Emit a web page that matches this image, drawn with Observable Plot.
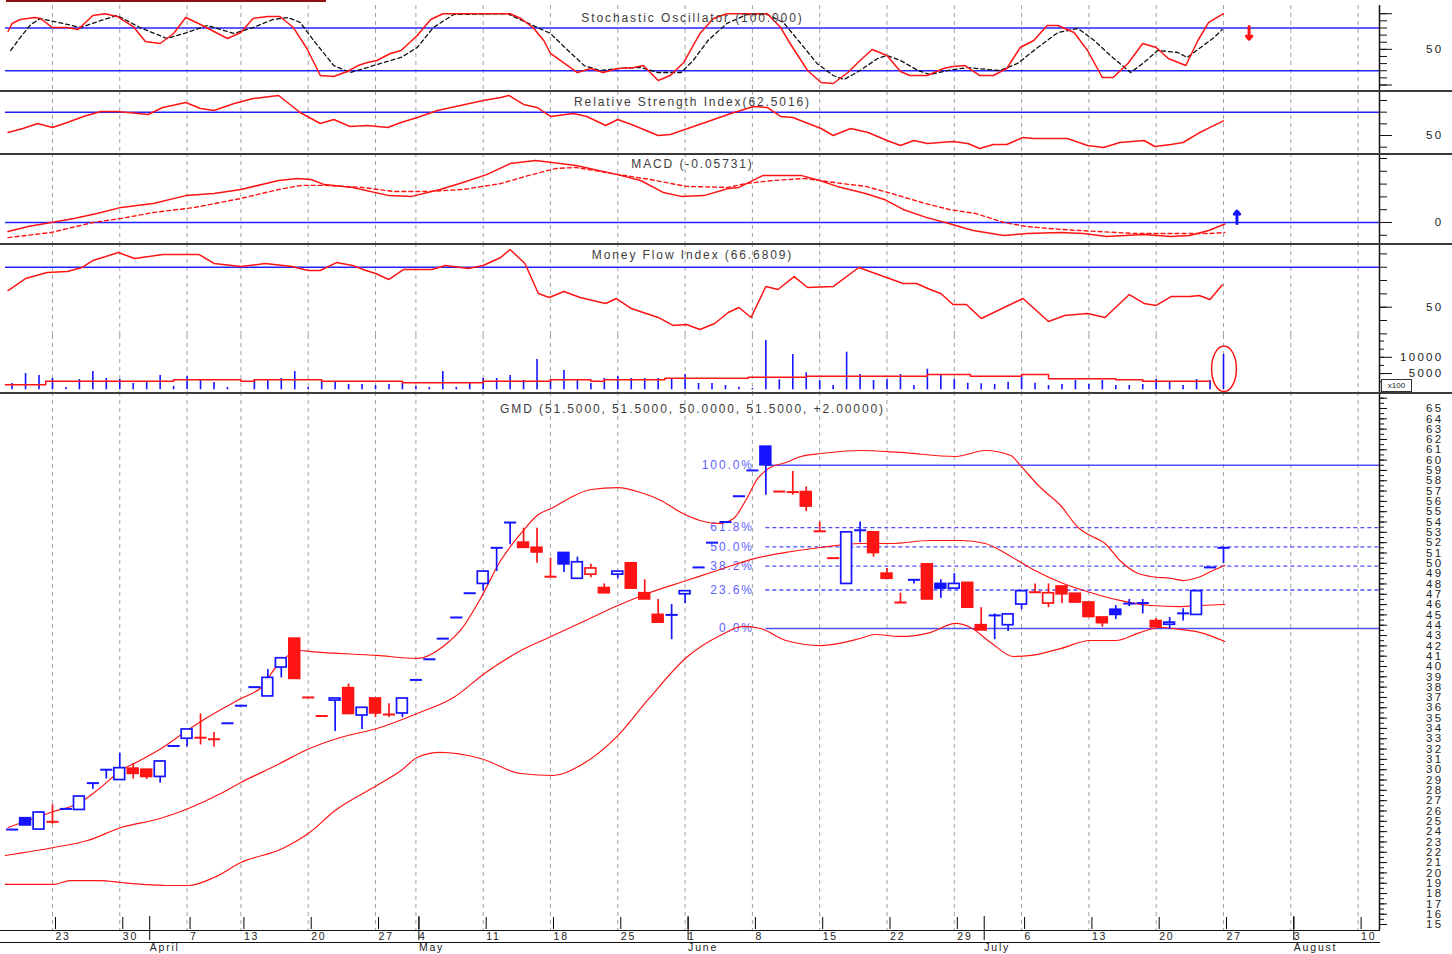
<!DOCTYPE html>
<html><head><meta charset="utf-8">
<script src="https://cdn.jsdelivr.net/npm/d3@7"></script>
<script src="https://cdn.jsdelivr.net/npm/@observablehq/plot@0.6"></script>
<style>
body{margin:0;background:#fff;}
#chart{position:relative;width:1452px;height:954px;overflow:hidden;background:#fff;font-family:"Liberation Sans",Arial,sans-serif;}
#chart svg{position:absolute;left:0;}
#chart svg text{letter-spacing:1.9px;}
#chart g[aria-label="y-axis tick label"] text{letter-spacing:2.3px;}
#chart g[aria-label="x-axis tick label"] text{letter-spacing:1.8px;}
.hline{position:absolute;left:0;background:#333;}
</style></head><body><div id="chart"></div>
<script>
// ---------- x axis (trading-day index) ----------
const weekIdx = [3,8,13,17,22,27,30,35,40,45,50,55,60,65,70,75,80,85,90,95,100];
const weekLabels = ["23","30","7","13","20","27","4","11","18","25","1","8","15","22","29","6","13","20","27","3","10"];
const monthIdx = [10,30,50,72,95];
const monthLabels = ["April","May","June","July","August"];

// ---------- price candles (index 0..90) ----------
const open = [24.2,25.3,24.2,25.0,26.2,26.1,28.7,30.0,29.0,30.1, 30.0,29.3,32.3,33.0,33.1,33.1,34.5,36.2,38.0,37.1, 39.9,42.7,37.0,35.2,36.7,37.9,35.25,36.9,35.4,35.45, 38.7,40.7,42.7,44.75,47.1,48.0,51.5,53.95,52.0,51.5, 48.7,51.0,48.5,48.9,47.6,48.9,50.0,47.1,45.0,45.0, 47.0,49.6,52.0,54.0,56.5,59.0,61.3,56.95,56.95,56.9, 53.1,50.5,48.0,53.2,53.0,49.0,46.2,48.4,49.9,48.0, 47.55,48.1,44.0,44.95,44.0,46.0,47.2,46.1,47.75,47.05, 46.2,44.75,45.5,46.1,46.15,44.4,44.05,45.15,45.0,49.6, 51.5];
const high = [24.2,25.3,25.85,26.6,26.2,27.4,28.7,30.0,31.6,30.6, 30.0,30.8,32.3,33.9,35.4,33.6,34.5,36.2,38.0,39.7, 40.8,42.7,37.0,35.2,36.9,38.3,36.0,36.9,36.4,36.9, 38.7,40.7,42.7,44.75,47.1,49.2,51.5,53.95,53.4,53.4, 50.5,51.0,50.6,49.9,48.0,49.2,50.0,48.4,46.5,46.0, 47.3,49.6,52.0,54.0,56.5,59.0,61.3,56.95,58.9,57.4, 54.0,50.5,53.0,54.0,53.0,49.5,47.1,48.4,49.9,48.4, 49.0,48.1,45.7,45.1,45.05,47.3,48.0,48.0,47.75,47.05, 46.2,44.75,45.9,46.5,46.5,44.65,44.75,45.6,47.3,49.6, 51.5];
const low = [24.2,24.6,24.2,24.7,26.2,26.1,28.1,29.1,29.0,29.1, 29.05,28.7,32.3,32.2,32.4,32.2,34.5,36.2,38.0,37.1, 38.9,38.8,37.0,35.2,33.7,35.4,33.9,35.05,35.05,35.05, 38.7,40.7,42.7,44.75,47.1,47.3,49.2,51.8,51.5,50.0, 48.7,49.1,48.5,48.6,47.1,48.5,47.55,46.5,44.25,42.6, 46.1,49.6,52.0,54.0,56.5,59.0,56.6,56.95,56.6,55.0, 53.1,50.5,48.0,52.0,50.6,48.5,46.2,48.0,46.5,46.6, 47.55,45.7,43.5,42.6,43.4,45.5,47.2,45.7,46.1,46.2, 44.8,43.8,44.55,45.8,45.1,43.8,43.6,44.4,45.0,49.6, 50.0];
const close = [24.2,24.6,25.85,24.95,26.2,27.4,28.7,30.0,30.15,29.6, 29.3,30.8,32.3,33.9,33.1,32.95,34.5,36.2,38.0,38.9, 40.8,38.8,37.0,35.2,36.9,35.4,36.0,35.45,35.35,36.9, 38.7,40.7,42.7,44.75,47.1,49.2,51.5,53.95,51.5,51.05, 48.7,49.9,50.1,49.5,47.1,49.2,47.55,46.5,44.25,45.0, 47.3,49.6,52.0,54.0,56.5,59.0,59.5,56.95,56.9,55.5, 53.1,50.5,53.0,53.2,51.0,48.5,46.2,48.4,46.5,47.55, 48.0,45.7,43.5,44.95,45.05,47.3,47.2,47.1,47.0,46.2, 44.8,44.2,45.0,46.1,46.15,43.8,44.25,45.15,47.3,49.6, 51.5];

// ---------- Bollinger bands ----------
const bbUpperIdx = [-0.3,3.1,4.9,6.3,8.1,9.5,11.2,13.0,14.5,17.0,18.5,19.7,21.4,22.2,27.1,30.1,32.3,33.3,34.8,36.3,37.2,38.1,39.0,40.2,41.5,43.0,45.0,46.7,48.2,49.7,51.1,52.5,53.6,54.5,55.4,56.2,57.5,58.6,60.1,63.0,66.0,70.1,72.3,74.2,74.9,76.4,77.9,79.2,80.1,81.2,82.3,83.5,84.6,86.1,87.0,88.1,89.2,90.1];
const bbUpper = [24.40,25.95,26.72,27.98,29.92,30.89,32.15,33.80,35.06,36.90,37.97,40.10,41.55,41.45,41.07,40.78,42.23,43.49,46.59,50.27,51.92,53.37,54.63,55.41,56.38,57.15,57.34,56.86,56.09,54.92,54.15,53.86,54.34,56.09,58.22,59.19,59.77,60.35,60.64,60.93,60.74,60.35,60.93,60.45,59.48,57.34,55.60,53.47,52.69,51.92,50.27,49.11,48.72,48.53,48.33,48.62,49.30,49.79];
const bbMidIdx = [-0.5,3.1,5.6,8.1,11.0,13.1,15.5,17.0,19.6,22.1,24.4,27.1,30.1,32.8,35.2,37.8,40.2,42.6,45.0,47.4,50.1,52.6,55.2,57.5,60.1,63.0,65.3,68.2,70.5,72.3,74.2,76.0,77.9,80.1,82.3,84.6,86.8,88.3,90.1];
const bbMid = [21.69,22.46,23.14,24.40,25.27,26.24,27.69,28.76,30.41,32.05,33.12,33.99,35.45,37.00,39.42,41.55,43.00,44.46,45.91,47.17,48.33,49.40,50.47,51.05,51.53,51.92,51.92,52.21,52.21,51.92,50.66,49.30,48.14,47.17,46.40,45.91,45.81,45.91,46.01];
const bbLowerIdx = [-0.5,3.1,4.3,6.6,8.1,11.8,13.1,15.0,17.0,20.1,22.1,24.0,27.1,28.9,30.1,31.8,34.8,37.8,40.2,42.2,45.0,47.2,50.1,52.6,54.3,55.6,57.5,60.1,63.0,64.1,66.0,68.2,70.1,71.2,72.7,74.4,75.7,77.9,80.1,82.0,83.8,85.3,86.8,88.3,90.1];
const bbLower = [18.88,18.88,19.26,19.26,19.07,18.78,18.78,19.55,21.01,22.36,23.91,26.05,28.47,29.92,31.18,31.67,31.09,29.63,29.44,30.41,33.31,36.71,40.87,43.00,43.88,43.68,42.52,42.03,42.71,43.10,42.91,43.29,44.17,43.78,42.33,40.97,41.07,41.74,42.52,42.52,43.29,43.78,43.59,43.29,42.42];

// ---------- Fibonacci retracement ----------
const fibLabels = ["100.0%","61.8%","50.0%","38.2%","23.6%","0.0%"];
const fibRatios = [1,0.618,0.5,0.382,0.236,0];
const fibHigh = 59.5, fibLow = 43.68, fibStartIdx = 56;

// ---------- Stochastic ----------
const stochKIdx = [-0.3,0.0,0.6,1.7,2.1,3.0,4.1,4.9,6.0,6.9,7.8,9.0,9.9,11.0,12.0,12.9,14.0,16.0,17.0,17.9,19.0,19.9,20.9,21.9,22.9,23.9,24.9,25.7,26.4,27.1,28.1,28.9,30.1,31.1,32.0,36.3,37.0,37.8,38.7,39.5,40.0,42.0,43.0,43.9,45.0,46.2,46.9,48.0,48.9,49.9,51.1,52.1,53.1,56.1,57.1,57.8,59.1,60.1,61.0,62.1,63.0,63.9,65.0,66.0,66.7,68.0,69.2,69.9,70.8,71.9,72.9,73.9,74.9,75.9,76.9,77.7,78.9,79.9,81.0,81.8,82.9,84.0,85.0,85.9,87.2,88.1,88.9,90.0];
const stochK = [75.0,86.3,91.9,94.7,93.3,80.6,80.6,77.8,97.5,100,96.1,82.0,61.0,58.2,72.2,94.7,84.9,65.2,73.6,93.3,96.1,96.1,80.6,51.2,13.3,11.9,18.9,27.3,31.6,34.4,44.2,48.4,69.4,91.9,100,100,100,93.3,80.6,62.4,44.2,17.5,23.1,17.5,23.1,24.5,27.3,6.3,13.3,31.6,72.2,93.3,100,100,80.6,58.2,20.3,3.5,2.1,17.5,34.4,49.8,41.4,18.9,13.3,13.3,23.1,25.9,27.3,13.3,13.3,23.1,52.6,62.4,83.5,83.5,73.6,48.4,10.5,10.5,30.2,58.2,52.6,37.2,27.3,62.4,87.7,100];
const stochDIdx = [-0.1,0.6,1.4,2.1,4.1,5.1,6.6,7.8,9.5,11.5,13.0,14.5,16.5,17.9,19.4,20.5,21.4,22.4,23.9,25.1,26.4,27.6,28.9,30.1,31.3,32.8,36.8,40.0,41.3,42.5,43.7,45.0,46.7,48.0,49.7,50.6,51.7,53.1,54.6,56.1,57.3,58.6,59.8,61.0,61.8,63.0,64.3,65.0,66.0,67.3,68.2,69.5,71.0,72.5,73.4,74.7,76.2,77.7,79.2,80.4,81.6,83.1,84.1,85.1,86.6,87.3,88.3,89.3,89.9];
const stochD = [48.4,66.6,84.9,93.3,84.9,80.6,90.5,97.5,80.6,65.2,73.6,83.5,72.2,80.6,91.9,94.7,87.7,62.4,27.3,17.5,24.5,31.6,38.6,52.6,80.6,98.9,100,72.2,48.4,27.3,20.3,23.1,24.5,17.5,17.5,34.4,62.4,86.3,98.9,98.9,87.7,58.2,30.2,13.3,7.7,20.3,37.2,41.4,34.4,20.3,14.7,20.3,24.5,21.7,20.3,30.2,52.6,73.6,79.2,62.4,41.4,17.5,31.6,48.4,45.6,38.6,52.6,66.6,77.8];
const stochLevels = [80,20];

// ---------- RSI ----------
const rsiIdx = [-0.3,0.8,1.9,3.0,4.1,5.3,6.6,7.8,8.6,10.1,11.2,12.9,14.0,15.0,16.5,17.9,19.8,21.4,22.9,23.9,25.1,26.4,27.9,28.9,30.1,31.6,33.3,35.0,36.3,36.9,38.0,39.0,40.0,41.7,42.7,44.1,45.0,46.2,48.0,48.9,50.2,51.7,53.4,55.1,56.1,57.1,58.0,60.1,61.0,62.3,63.6,65.0,66.0,67.0,68.0,69.9,71.0,71.9,72.9,73.9,75.1,75.9,78.4,79.9,81.1,82.3,84.1,84.9,86.1,87.0,88.1,89.0,90.0];
const rsiVal = [52.6,56.0,60.3,56.9,61.1,66.3,70.6,70.6,69.7,68.0,74.0,78.3,73.1,71.4,77.4,81.7,84.3,69.7,60.3,63.7,57.7,58.6,56.9,61.1,65.4,71.4,75.7,80.0,82.6,84.3,76.6,74.0,66.3,68.9,66.3,58.6,63.7,58.6,50.0,50.9,56.0,62.0,68.9,74.8,74.0,66.3,65.4,56.0,50.0,56.0,52.6,45.7,41.4,45.7,43.1,44.9,43.1,38.9,42.3,42.3,48.3,47.4,47.4,41.4,39.7,44.0,45.7,40.6,42.3,44.0,51.7,56.9,62.5];
const rsiLevels = [70];

// ---------- MACD ----------
const macdIdx = [-0.3,1.2,2.9,4.6,6.3,8.1,10.5,12.9,15.0,17.0,19.8,21.2,22.2,23.2,25.3,28.0,29.7,31.8,33.5,35.3,37.0,38.9,41.9,44.9,46.7,48.4,49.7,51.4,53.2,54.0,55.8,58.6,60.0,61.3,63.4,64.8,66.2,67.9,69.6,71.4,73.7,75.4,77.9,79.6,81.3,84.1,86.1,87.5,88.9,90.1];
const macdVal = [-0.35,-0.16,0,0.16,0.35,0.59,0.74,1.05,1.13,1.29,1.64,1.72,1.68,1.48,1.37,1.05,1.02,1.29,1.56,1.88,2.30,2.42,2.23,1.88,1.64,1.17,1.02,1.05,1.33,1.37,1.84,1.84,1.64,1.41,1.13,0.90,0.51,0.20,-0.04,-0.31,-0.51,-0.43,-0.39,-0.43,-0.55,-0.47,-0.55,-0.51,-0.31,-0.06];
const signalIdx = [-0.3,2.9,6.0,8.1,10.5,13.6,17.0,19.8,21.5,23.2,26.0,28.4,30.8,33.5,36.3,38.4,40.4,41.9,44.6,47.4,50.1,53.2,54.5,56.5,58.9,61.7,63.4,65.1,67.6,69.6,71.6,73.7,75.4,77.9,80.6,83.4,86.1,88.9,90.1];
const signalVal = [-0.59,-0.39,0,0.16,0.39,0.59,0.94,1.29,1.45,1.45,1.37,1.21,1.21,1.29,1.52,1.84,2.11,2.15,1.91,1.68,1.41,1.37,1.52,1.64,1.72,1.52,1.41,1.17,0.78,0.51,0.35,0,-0.16,-0.27,-0.35,-0.43,-0.43,-0.43,-0.39];
const macdLevels = [0];

// ---------- Money Flow Index ----------
const mfiIdx = [-0.3,1.0,2.6,4.1,5.2,6.0,7.9,9.1,11.2,13.9,15.0,17.0,18.8,20.8,22.0,22.9,24.1,25.3,26.3,27.0,28.0,29.1,31.2,32.2,33.9,35.0,36.3,37.0,38.1,39.1,39.9,41.0,42.2,44.1,44.9,46.0,48.0,49.1,50.1,51.1,52.2,53.2,54.0,54.9,56.0,56.9,58.1,59.1,61.0,62.9,66.2,67.2,68.2,69.0,69.9,70.9,72.0,75.1,77.0,78.2,79.9,81.2,83.0,84.1,85.0,86.1,87.5,88.2,89.0,89.9];
const mfiVal = [62.5,71.5,76.0,76.8,79.8,85.0,91.0,86.5,89.5,89.5,82.8,80.5,82.8,80.5,77.5,77.5,83.5,81.3,77.5,75.3,70.8,78.3,78.3,81.3,79.0,81.3,87.3,93.3,82.8,60.3,57.3,61.8,57.3,52.8,56.5,49.0,42.3,36.3,37.0,33.3,37.8,46.0,49.8,42.3,65.5,63.3,73.0,64.8,65.5,79.8,67.8,67.8,63.3,60.3,52.0,52.0,41.5,56.5,39.3,43.8,45.3,42.3,59.5,52.8,51.3,58.0,58.0,58.8,55.8,66.7];
const mfiLevels = [80];

// ---------- Volume (x100) ----------
const volume = [1940,5015,4400,3477,708,3169,5631,3477,3169,1938, 2554,4400,1015,4092,3169,2246,708,100,3169,3169, 3477,5631,708,2554,2554,1631,1631,1323,1631,1938, 1015,708,5631,708,1938,3477,3477,4400,2862,9323, 3169,5939,2862,1938,3477,4092,3477,3477,3477,3477, 4708,1938,1938,1323,800,400,15170,3077,10862,5231, 2862,1323,11570,4708,2862,3169,4708,1323,6339,4400, 3169,2031,1846,1631,2339,4400,2031,1323,1631,2862, 1631,2862,1323,1323,1631,3169,2554,1323,3169,2862, 10862];
const volMaIdx = [-0.5,2.5,12,17,18,23,29,35,40,43,44,48.5,54.7,59,68,71.2,75,77,82,84,89];
const volMaVal = [1540,2646,3077,2646,3077,2646,2154,2646,3077,2646,3077,3569,3877,4185,4708,4185,4708,3385,3077,2646,2646];

// ---------- annotations ----------
const stochSignal = [{i: 91.9, from: 82, to: 64}];
const macdSignal = [{i: 91.0, from: -0.04, to: 0.45}];
const volHighlight = [{i1: 89.15, i2: 91.0, v1: -700, v2: 13300}];

const titles = {
  stoch: "Stochastic Oscillator (100.000)",
  rsi: "Relative Strength Index(62.5016)",
  macd: "MACD (-0.05731)",
  mfi: "Money Flow Index (66.6809)",
  price: "GMD (51.5000, 51.5000, 50.0000, 51.5000, +2.00000)"
};

// ================= rendering =================
const BLUE = "#1414ff", RED = "#ff1414", LEVEL = "#2222ff", FIB = "#4f4fff";
const FONT = "'Liberation Sans', Arial, sans-serif";
const W = 1452;
const X_DOMAIN = [-0.49, 101.59];
const chart = document.getElementById("chart");
const zip = (idx, val) => idx.map((i, k) => ({i, v: val[k]}));
const range = (a, b, s) => d3.range(a, b + s / 2, s).map(v => +v.toFixed(4));

function addPlot(top, height, yDomain, marks, extra = {}) {
  const svg = Plot.plot({
    width: W, height,
    marginLeft: 5, marginRight: 73,
    marginTop: extra.marginTop ?? 0, marginBottom: extra.marginBottom ?? 0,
    x: {domain: X_DOMAIN, axis: null},
    y: {domain: yDomain, axis: null},
    color: {type: "identity"},
    style: {background: "transparent", fontFamily: FONT, fontSize: "10px", overflow: "visible", color: "#222"},
    marks
  });
  svg.style.position = "absolute";
  svg.style.top = top + "px";
  svg.style.left = "0px";
  chart.appendChild(svg);
}
const grid = () => Plot.ruleX(weekIdx, {stroke: "#a2a2a2", strokeDasharray: "4,4", strokeWidth: 1});
function rightAxis({minor, major, long, labeled, fmt = d => String(d)}) {
  const m = [Plot.ruleX([X_DOMAIN[1]], {stroke: "#111", strokeWidth: 1.5})];
  if (minor && minor.length) m.push(Plot.axisY({ticks: minor, anchor: "right", tickSize: 4, tickFormat: () => "", label: null, stroke: "#111"}));
  if (major && major.length) m.push(Plot.axisY({ticks: major, anchor: "right", tickSize: 7, tickFormat: () => "", label: null, stroke: "#111"}));
  if (long && long.length) m.push(Plot.axisY({ticks: long, anchor: "right", tickSize: 12, tickFormat: () => "", label: null, stroke: "#111"}));
  if (labeled && labeled.length) m.push(Plot.axisY({ticks: labeled, anchor: "right", tickSize: 0, tickPadding: 0, tickFormat: fmt, textAnchor: "end", dx: 64, label: null, fill: "#222", fontSize: 11.5}));
  return m;
}
const title = (t, dy) => Plot.text([t], {frameAnchor: "top", dy, fontSize: 12, fill: "#3c3c3c"});

// Panel 1: Stochastic
addPlot(0, 91, [-9.12, 111.5], [
  grid(),
  Plot.ruleY(stochLevels, {stroke: LEVEL, strokeWidth: 1.5}),
  Plot.line(zip(stochDIdx, stochD), {x: "i", y: "v", stroke: "#111", strokeWidth: 1.3, strokeDasharray: "4,3"}),
  Plot.line(zip(stochKIdx, stochK), {x: "i", y: "v", stroke: RED, strokeWidth: 1.5}),
  Plot.arrow(stochSignal, {x1: "i", x2: "i", y1: "from", y2: "to", stroke: RED, strokeWidth: 3, headLength: 7, headAngle: 80}),
  title(titles.stoch, 8),
  ...rightAxis({major: range(0, 100, 10), long: [0, 50, 100], labeled: [50]})
], {marginTop: 5});

// Panel 2: RSI
addPlot(91, 62, [34.58, 87.7], [
  grid(),
  Plot.ruleY(rsiLevels, {stroke: LEVEL, strokeWidth: 1.5}),
  Plot.line(zip(rsiIdx, rsiVal), {x: "i", y: "v", stroke: RED, strokeWidth: 1.5}),
  title(titles.rsi, 6),
  ...rightAxis({major: range(40, 80, 10), long: [50], labeled: [50]})
]);

// Panel 3: MACD
addPlot(153, 90, [-0.82, 2.695], [
  grid(),
  Plot.ruleY(macdLevels, {stroke: LEVEL, strokeWidth: 1.5}),
  Plot.line(zip(signalIdx, signalVal), {x: "i", y: "v", stroke: RED, strokeWidth: 1.4, strokeDasharray: "4,3"}),
  Plot.line(zip(macdIdx, macdVal), {x: "i", y: "v", stroke: RED, strokeWidth: 1.5}),
  Plot.arrow(macdSignal, {x1: "i", x2: "i", y1: "from", y2: "to", stroke: BLUE, strokeWidth: 3, headLength: 7, headAngle: 80}),
  title(titles.macd, 6),
  ...rightAxis({major: range(-0.5, 2.5, 0.5), long: [0], labeled: [0]})
]);

// Panel 4a: MFI
addPlot(243, 92, [28.77, 97.79], [
  grid(),
  Plot.ruleY(mfiLevels, {stroke: LEVEL, strokeWidth: 1.5}),
  Plot.line(zip(mfiIdx, mfiVal), {x: "i", y: "v", stroke: RED, strokeWidth: 1.5}),
  title(titles.mfi, 7),
  ...rightAxis({major: range(30, 90, 10), long: [50], labeled: [50]})
]);

// Panel 4b: Volume
addPlot(335, 57, [-831, 16708], [
  grid(),
  Plot.ruleX(volume.map((v, i) => ({i, v})), {x: "i", y1: 0, y2: "v", stroke: BLUE, strokeWidth: 1.6}),
  Plot.line(zip(volMaIdx, volMaVal), {x: "i", y: "v", stroke: RED, strokeWidth: 1.5, curve: "step-after"}),
  Plot.rect(volHighlight, {x1: "i1", x2: "i2", y1: "v1", y2: "v2", rx: 13, ry: 23, fill: "none", stroke: RED, strokeWidth: 1.5}),
  ...rightAxis({minor: range(2500, 15000, 2500), long: [5000, 10000], labeled: [5000, 10000]})
]);

// Panel 5: Price
const candles = open.map((o, i) => ({
  i, o, h: high[i], l: low[i], c: close[i],
  col: (i === 0 || close[i] > close[i - 1]) ? BLUE : RED,
  filled: close[i] < o
}));
const bodies = candles.filter(d => Math.abs(d.c - d.o) >= 0.15);
const dojis = candles.filter(d => Math.abs(d.c - d.o) < 0.15);
const fib = fibLabels.map((label, k) => ({label, ratio: fibRatios[k], p: fibLow + fibRatios[k] * (fibHigh - fibLow)}));
const weekMap = new Map(weekIdx.map((d, k) => [d, weekLabels[k]]));
const monthMap = new Map(monthIdx.map((d, k) => [d, monthLabels[k]]));

addPlot(392, 562, [14.42, 66.55], [
  grid(),
  Plot.ruleY(fib.filter(d => d.ratio === 1 || d.ratio === 0), {y: "p", x1: fibStartIdx, x2: X_DOMAIN[1], stroke: FIB, strokeWidth: 1.5}),
  Plot.ruleY(fib.filter(d => d.ratio !== 1 && d.ratio !== 0), {y: "p", x1: fibStartIdx, x2: X_DOMAIN[1], stroke: FIB, strokeWidth: 1.4, strokeDasharray: "4,3"}),
  Plot.text(fib, {x: fibStartIdx, y: "p", text: "label", textAnchor: "end", dx: -12, fill: "#5e5eff", fontSize: 12}),
  Plot.line(zip(bbUpperIdx, bbUpper), {x: "i", y: "v", stroke: RED, strokeWidth: 1.2, curve: "monotone-x"}),
  Plot.line(zip(bbMidIdx, bbMid), {x: "i", y: "v", stroke: RED, strokeWidth: 1.2, curve: "monotone-x"}),
  Plot.line(zip(bbLowerIdx, bbLower), {x: "i", y: "v", stroke: RED, strokeWidth: 1.2, curve: "monotone-x"}),
  Plot.ruleX(candles.filter(d => d.h > d.l), {x: "i", y1: "l", y2: "h", stroke: "col", strokeWidth: 1.7}),
  Plot.rect(bodies, {x1: d => d.i - 0.4, x2: d => d.i + 0.4, y1: "o", y2: "c", fill: d => d.filled ? d.col : "white", stroke: "col", strokeWidth: 1.7}),
  Plot.link(dojis, {x1: d => d.i - 0.45, x2: d => d.i + 0.45, y1: "c", y2: "c", stroke: "col", strokeWidth: 2}),
  title(titles.price, 12),
  ...rightAxis({minor: range(15, 66, 0.5), major: range(15, 66, 1), labeled: range(15, 65, 1)}),
  Plot.axisX({ticks: weekIdx, anchor: "bottom", tickSize: 12, tickFormat: d => weekMap.get(d), textAnchor: "start", dx: 3, dy: -13, label: null, stroke: "#000", fill: "#222", fontSize: 10.5}),
  Plot.axisX({ticks: monthIdx, anchor: "bottom", tickSize: 24, tickFormat: d => monthMap.get(d), textAnchor: "start", dx: 3, dy: -14, label: null, stroke: "#000", fill: "#222", fontSize: 10.5})
], {marginBottom: 24});

// frame decorations: panel separators, bottom axis rows, unit box, top bar
function hline(top, left, width, h, color) {
  const d = document.createElement("div");
  d.className = "hline";
  Object.assign(d.style, {top: top + "px", left: left + "px", width: width + "px", height: h + "px", background: color});
  chart.appendChild(d);
}
[89.5, 152.5, 242.5, 391.5].forEach(t => hline(t, 0, W, 2, "#3a3a3a"));
hline(929.5, 0, 1380, 1.5, "#111");
hline(941.5, 0, 1380, 1.5, "#111");
hline(0, 6, 320, 2, "#8e1010");
const box = document.createElement("div");
Object.assign(box.style, {position: "absolute", left: "1381px", top: "379px", width: "29px", height: "11px", border: "1px solid #333", font: "8px 'Liberation Sans', Arial, sans-serif", lineHeight: "11px", textAlign: "center", color: "#222", background: "#fff"});
box.textContent = "x100";
chart.appendChild(box);
</script></body></html>
